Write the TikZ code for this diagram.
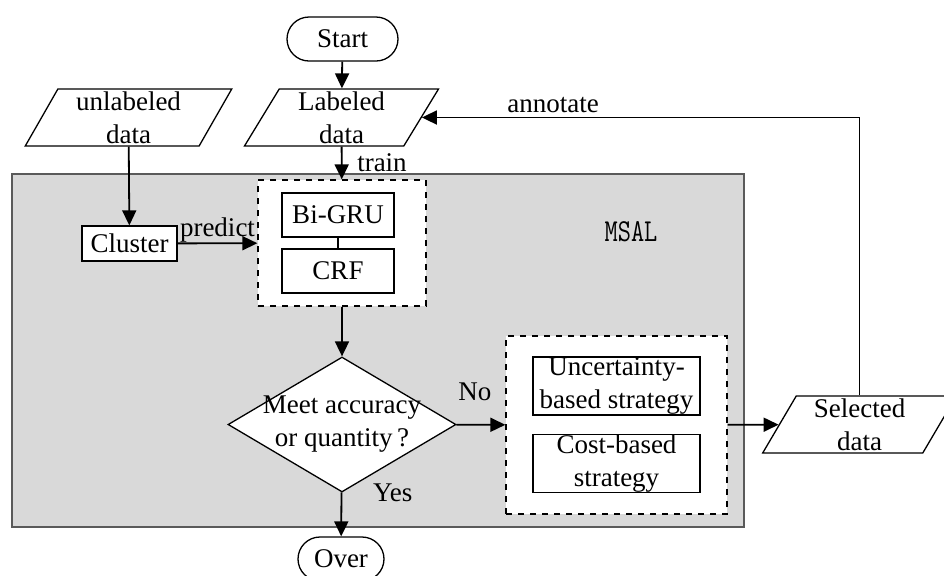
\documentclass[tikz,border=0pt]{standalone}
\usepackage{fontspec}
\setmainfont{Liberation Serif}
\usepackage{tikz}
\usetikzlibrary{arrows.meta,shapes.geometric,shapes.misc,positioning}
\definecolor{msalgray}{RGB}{217,217,217}
\definecolor{msalline}{RGB}{90,90,90}

\begin{document}
\begin{tikzpicture}[x=0.5pt,y=-0.5pt,
  font=\fontsize{13.5}{16.5}\selectfont,
  line width=0.65pt,
  >={Triangle[length=7.5pt,width=7pt]},
  flow/.style={line width=0.9pt},
  term/.style={draw,rounded rectangle,minimum height=22pt,inner sep=0pt},
  datum/.style={draw,fill=white,trapezium,trapezium left angle=65,trapezium right angle=115,
    trapezium stretches=true,minimum width=97.5pt,minimum height=28.5pt,inner sep=0pt,align=center},
  box/.style={draw,fill=white,inner sep=0pt,align=center},
  group/.style={draw,dashed,fill=white,inner sep=0pt},
  decision/.style={draw,fill=white,diamond,minimum width=114pt,minimum height=67.5pt,inner sep=0pt}]
\useasboundingbox (0,0) rectangle (944,575);

\node[draw=msalline,line width=0.8pt,fill=msalgray,minimum width=366pt,minimum height=176.5pt,inner sep=0pt] (msal) at (378,350.5) {};
\node (msallabel) at (631,232) {\ttfamily\addfontfeatures{FakeBold=1.5}\fontsize{16}{16}\selectfont\scalebox{0.8}[1]{MSAL}};

\node[term,minimum width=55.5pt] (start) at (342.5,39) {Start};
\node[datum,minimum width=103.5pt] (unlab) at (128.5,117.5) {unlabeled\\data};
\node[datum] (lab) at (341.5,117.5) {Labeled\\data};
\node[box,minimum width=47.5pt,minimum height=17.5pt] (cluster) at (129.5,243.5) {Cluster};

\node[group,minimum width=84pt,minimum height=63pt] (model) at (342,243) {};
\node[box,minimum width=56pt,minimum height=22pt] (bigru) at (338,215) {Bi-GRU};
\node[box,minimum width=56pt,minimum height=22pt] (crf) at (338,271) {CRF};

\node[decision,label={[align=center]center:Meet accuracy\\or quantity\,?}] (dec) at (342,424.5) {};
\node[term,minimum width=43pt] (over) at (341,559) {Over};

\node[group,minimum width=110.5pt,minimum height=89pt] (strat) at (616.5,425) {};
\node[box,minimum width=83.5pt,minimum height=29pt] (unc) at (616.5,386) {Uncertainty-\\based strategy};
\node[box,minimum width=83.5pt,minimum height=29pt] (cost) at (616.5,463.5) {Cost-based\\strategy};

\node[datum] (sel) at (859.5,424.5) {Selected\\data};

\draw[flow,->] (start) -- (lab);
\draw[flow,->] (lab) -- (model) node[midway,right,xshift=4pt] {train};
\draw[flow,->] (unlab) -- (cluster);
\draw[flow,->] (cluster) -- (model) node[midway,above,inner sep=0pt] {predict};
\draw (bigru) -- (crf);
\draw[flow,->] (model) -- (dec);
\draw[flow,->] (dec) -- (over) node[pos=0,anchor=west,xshift=12pt] {Yes};
\draw[flow,->] (dec) -- (strat) node[pos=0.38,above,yshift=8pt] {No};
\draw[flow,->] (strat) -- (sel);
\draw[flow,->] (sel.north) |- (lab.east) node[pos=0.85,above,inner sep=2pt] {annotate};
\end{tikzpicture}
\end{document}
